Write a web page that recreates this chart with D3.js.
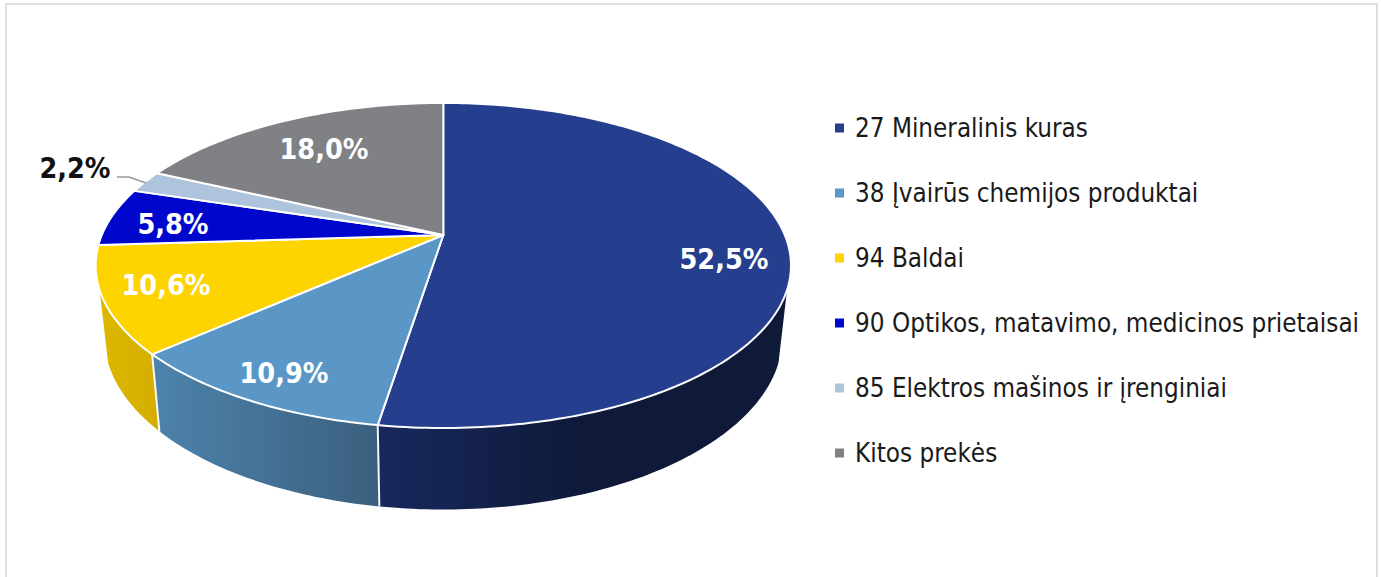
<!DOCTYPE html>
<html><head><meta charset="utf-8">
<script src="https://cdn.jsdelivr.net/npm/d3@7"></script>
<style>html,body{margin:0;padding:0;background:#fff}svg{display:block}</style></head>
<body><svg id="c" width="1381" height="577"></svg>
<script>
const categories = ["27 Mineralinis kuras","38 Įvairūs chemijos produktai","94 Baldai","90 Optikos, matavimo, medicinos prietaisai","85 Elektros mašinos ir įrenginiai","Kitos prekės"];
const values = [52.5,10.9,10.6,5.8,2.2,18.0];
const labels = ["52,5%","10,9%","10,6%","5,8%","2,2%","18,0%"];
const colors = ["#253f8e","#5a96c6","#fdd300","#0007cd","#adc4dc","#808184"];
const sideLeft = ["#18285e","#4d83ac","#dcb800",null,null,null];
const sideRight = ["#0e1a38","#3b5f7e","#d3ae00",null,null,null];
const sideEnd = [0.5,1,1,1,1,1];
const labelPos = [[724,259],[284,373],[166,285],[173,224],[75,168],[324,149]];
const labelColor = ["#fff","#fff","#fff","#fff","#111","#fff"];

const FONT = "'DejaVu Sans Condensed','DejaVu Sans',sans-serif";
const svg = d3.select("#c");
svg.append("rect").attr("x",6).attr("y",4).attr("width",1371).attr("height",590)
  .attr("fill","#fff").attr("stroke","#dedede").attr("stroke-width",2);

const k = -0.1877;
function project(g,a){ const u=Math.sin(a), v=-Math.cos(a), d=1+k*v;
  return [g.cx+g.A*u/d, g.y0+g.B*v/d]; }
const topG = {cx:443.3,y0:235,A:341.5,B:156.8};
const botG = {cx:443.3,y0:304.7,A:333,B:166.4};
const silhouette = 109.2*Math.PI/180;
const pie = d3.pie().sort(null).value(d=>d)(values);
const arcPts = (g,a0,a1)=>{ const n=Math.max(4,Math.ceil((a1-a0)*60));
  return d3.range(n+1).map(i=>project(g,a0+(a1-a0)*i/n)); };
const line = d3.line();
const defs = svg.append("defs");

// side walls: only the part of each front slice between the two silhouette angles
const front = pie.map((p,i)=>({p,i})).filter(o=>-Math.cos((o.p.startAngle+o.p.endAngle)/2)>0);
front.forEach(o=>{
  const a0=Math.max(o.p.startAngle,silhouette), a1=Math.min(o.p.endAngle,2*Math.PI-silhouette);
  o.top=arcPts(topG,a0,a1); o.bot=arcPts(botG,a0,a1);
  const xs=o.top.concat(o.bot).map(d=>d[0]);
  o.id="g"+o.i;
  const gr=defs.append("linearGradient").attr("id",o.id).attr("gradientUnits","userSpaceOnUse")
    .attr("x1",d3.min(xs)).attr("x2",d3.max(xs)).attr("y1",0).attr("y2",0);
  gr.append("stop").attr("offset",0).attr("stop-color",sideLeft[o.i]);
  gr.append("stop").attr("offset",sideEnd[o.i]).attr("stop-color",sideRight[o.i]);
});
front.slice().sort((a,b)=>b.i-a.i).forEach(o=>{
  svg.append("path").attr("d",line(o.top.concat(o.bot.slice().reverse()))+"Z")
    .attr("fill",`url(#${o.id})`).attr("stroke","none");
});
// white separators on the side wall, only where the slice boundary is on the visible wall
front.filter(o=>o.p.endAngle<2*Math.PI-silhouette).forEach(o=>{
  const a=o.p.endAngle;
  svg.append("path").attr("d",line([project(topG,a),project(botG,a)]))
    .attr("stroke","#fff").attr("stroke-width",2).attr("fill","none").attr("opacity",.95);
});
// top faces
pie.forEach((p,i)=>{
  const pts=[[topG.cx,topG.y0]].concat(arcPts(topG,p.startAngle,p.endAngle));
  svg.append("path").attr("d",line(pts)+"Z").attr("fill",colors[i])
    .attr("stroke","#fff").attr("stroke-width",2).attr("stroke-linejoin","round");
});
// leader
svg.append("path").attr("d",line([[117,177],[129,177],[146,183]])).attr("fill","none")
  .attr("stroke","#999").attr("stroke-width",1.5);
// data labels
svg.selectAll("text.v").data(labels).join("text").attr("class","v")
  .attr("x",(d,i)=>labelPos[i][0]).attr("y",(d,i)=>labelPos[i][1]).attr("text-anchor","middle")
  .attr("font-family",FONT).attr("font-weight","bold").attr("font-size",28.5)
  .attr("dominant-baseline","central").attr("fill",(d,i)=>labelColor[i]).text(d=>d);
// legend
const ly = d3.scalePoint().domain(categories).range([128,453]);
const lg = svg.selectAll("g.l").data(categories).join("g").attr("class","l")
  .attr("transform",d=>`translate(835,${ly(d)})`);
lg.append("rect").attr("x",0).attr("y",-4.5).attr("width",9).attr("height",9).attr("fill",(d,i)=>colors[i]);
lg.append("text").attr("x",20).attr("y",0).attr("dominant-baseline","central")
  .attr("font-family",FONT).attr("font-size",25.8).attr("fill","#1a1a1a").text(d=>d);
</script></body></html>
